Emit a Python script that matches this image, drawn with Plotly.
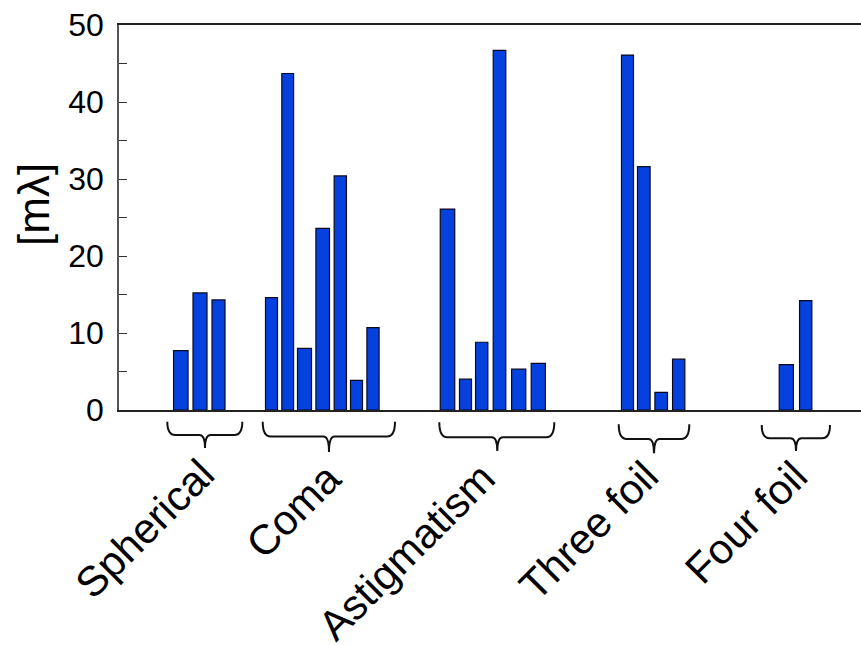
import plotly.graph_objects as go

# Aberration groups and the Zernike terms measured in each (values in milli-waves)
groups = ["Spherical", "Coma", "Astigmatism", "Three foil", "Four foil"]
spherical = [7.7, 15.2, 14.3]
coma = [14.6, 43.7, 8.0, 23.6, 30.4, 3.85, 10.7]
astigmatism = [26.1, 4.0, 8.8, 46.7, 5.3, 6.05]
three_foil = [46.1, 31.6, 2.3, 6.6]
four_foil = [5.9, 14.2]
y_ticks = [0, 10, 20, 30, 40, 50]

series = [spherical, coma, astigmatism, three_foil, four_foil]

# Layout: bar centres and widths along the x axis (axis units)
bar_pos = [
    [61.8, 81.0, 99.5],
    [152.5, 168.7, 185.5, 203.7, 221.3, 237.5, 254.0],
    [328.5, 346.5, 362.7, 380.5, 399.7, 419.3],
    [508.5, 524.8, 542.2, 559.7],
    [667.3, 686.7],
]
bar_w = [
    [14.5, 14.0, 13.0],
    [12.0, 11.8, 14.0, 13.6, 12.3, 12.0, 12.2],
    [14.5, 12.0, 12.3, 12.6, 14.2, 14.2],
    [12.0, 12.6, 12.6, 12.3],
    [14.2, 12.3],
]
# brace geometry: left, right, tip x; then top, shoulder, tip depth in px below the axis
brace_x = [
    (48.3, 123.3, 86.0),
    (143.7, 276.0, 210.0),
    (320.3, 435.3, 378.3),
    (499.7, 570.3, 535.0),
    (642.7, 711.0, 677.0),
]
brace_y = [
    (11.7, 25.0, 38.0),
    (11.7, 26.5, 42.0),
    (12.3, 27.3, 41.0),
    (14.3, 29.0, 43.3),
    (15.0, 28.3, 41.0),
]
label_anchor = [(107.0, 37.0), (234.0, 41.0), (388.0, 41.0), (551.0, 39.0), (700.0, 39.0)]

W, H = 861, 645
M_L, M_T, M_B = 119, 25, 235
PLOT_H = H - M_T - M_B
X_RANGE = [0, W - M_L]

FONT = "Liberation Sans, Arial, Helvetica, sans-serif"
BAR_BLUE = "#0441de"

xs, ys, ws = [], [], []
for pos, vals, wid in zip(bar_pos, series, bar_w):
    xs += pos
    ys += vals
    ws += wid

fig = go.Figure(
    go.Bar(
        x=xs,
        y=ys,
        width=ws,
        marker=dict(color=BAR_BLUE, line=dict(color="#0a0a1e", width=1.2)),
        hoverinfo="y",
    )
)


def py(px_below):
    """Convert a pixel distance below the x axis to paper y."""
    return -px_below / PLOT_H


shapes = []
for (x0, x1, xm), (top, mid, tip) in zip(brace_x, brace_y):
    rx, rm = 8.0, 5.5
    path = (
        f"M {x0},{py(top)} "
        f"Q {x0},{py(mid)} {x0 + rx},{py(mid)} "
        f"L {xm - rm},{py(mid)} "
        f"Q {xm},{py(mid)} {xm},{py(tip)} "
        f"Q {xm},{py(mid)} {xm + rm},{py(mid)} "
        f"L {x1 - rx},{py(mid)} "
        f"Q {x1},{py(mid)} {x1},{py(top)}"
    )
    shapes.append(
        dict(
            type="path",
            path=path,
            xref="x",
            yref="paper",
            line=dict(color="#111111", width=2),
        )
    )

annotations = []
for name, (ax, ay) in zip(groups, label_anchor):
    annotations.append(
        dict(
            text=name,
            x=ax,
            y=py(ay),
            xref="x",
            yref="paper",
            xanchor="right",
            yanchor="top",
            textangle=-45,
            showarrow=False,
            font=dict(family=FONT, size=42, color="#000000"),
        )
    )

# y-axis title, positioned in pixel space left of the tick labels
annotations.append(
    dict(
        text="[mλ]",
        x=(33 - M_L) / (W - M_L),
        y=(H - M_B - 205) / PLOT_H,
        xref="paper",
        yref="paper",
        xanchor="center",
        yanchor="middle",
        showarrow=False,
        textangle=-90,
        font=dict(family=FONT, size=44, color="#000000"),
    )
)

fig.update_layout(
    width=W,
    height=H,
    margin=dict(l=M_L, r=0, t=M_T, b=M_B, pad=0),
    paper_bgcolor="white",
    plot_bgcolor="white",
    showlegend=False,
    shapes=shapes,
    annotations=annotations,
    font=dict(family=FONT, color="#000000"),
)
fig.update_xaxes(
    range=X_RANGE,
    showgrid=False,
    zeroline=False,
    showticklabels=False,
    ticks="",
    showline=True,
    mirror=True,
    linecolor="#222222",
    linewidth=2,
)
fig.update_yaxes(
    range=[0, 50],
    tickvals=y_ticks,
    showgrid=False,
    zeroline=False,
    showline=True,
    linecolor="#555555",
    linewidth=1.5,
    ticks="inside",
    ticklen=8,
    tickwidth=1.2,
    tickcolor="#333333",
    minor=dict(dtick=5, ticks="inside", ticklen=8, tickwidth=1.2, tickcolor="#333333"),
    tickfont=dict(family=FONT, size=32, color="#000000"),
    ticklabelstandoff=7,
)

fig.write_html("out.html")
